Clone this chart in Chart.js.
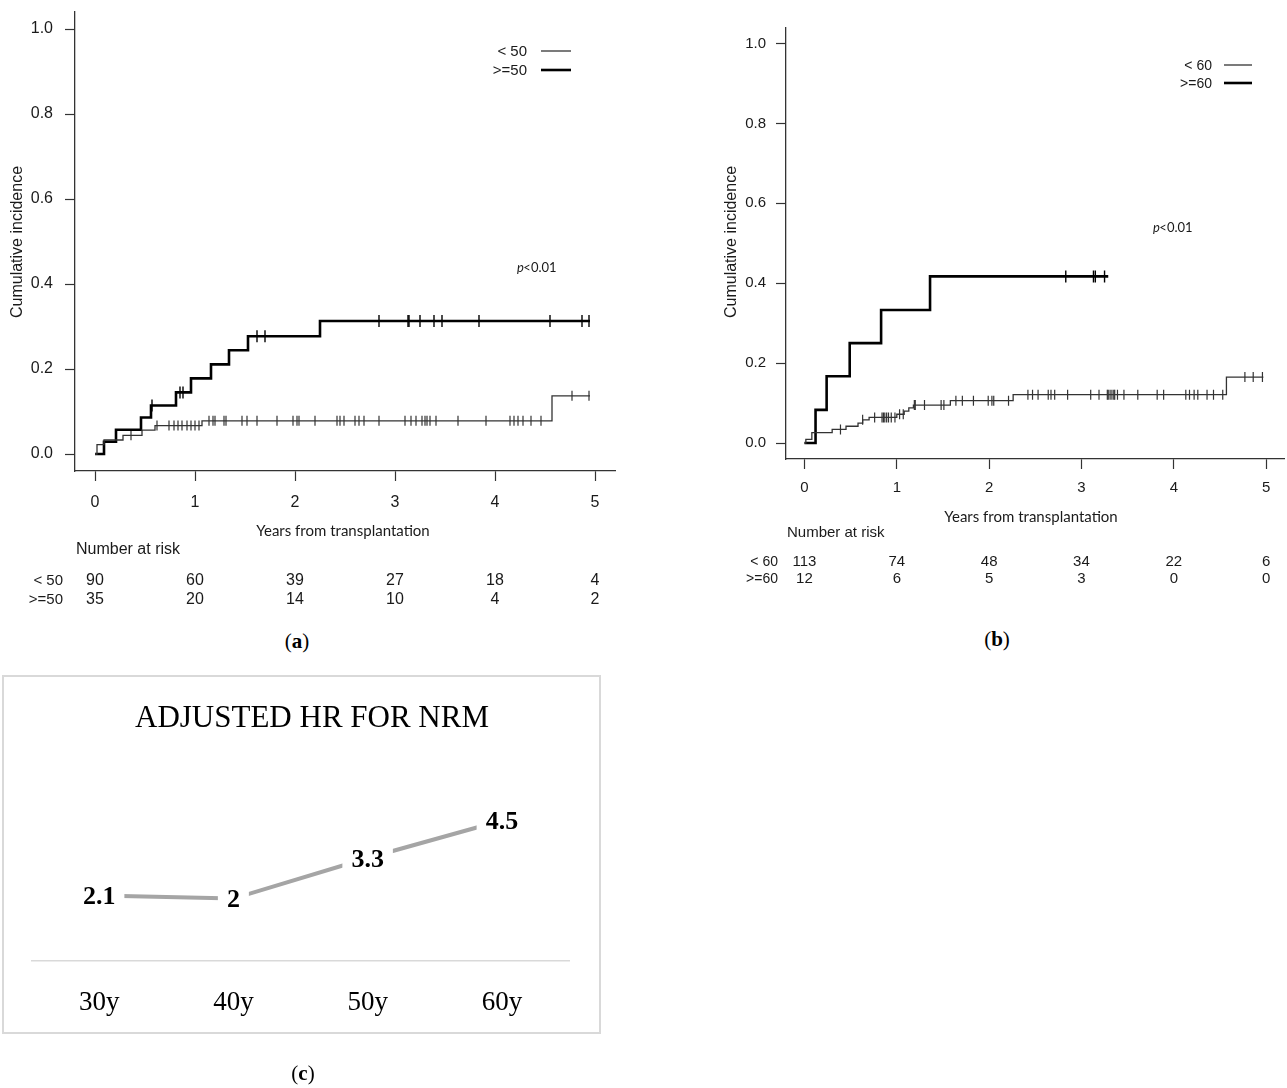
<!DOCTYPE html>
<html>
<head>
<meta charset="utf-8">
<script src="https://cdn.jsdelivr.net/npm/chart.js@4.4.1/dist/chart.umd.min.js"></script>
<style>
    html, body { margin: 0; padding: 0; background: #fff; width: 1287px; height: 1088px; overflow: hidden; }
    .panel { position: absolute; }
    .letter { position: absolute; font-family: "Liberation Serif", serif; font-size: 21px; color: #000; transform: translate(-50%, -50%); }
    .box { position: absolute; left: 2px; top: 675px; width: 595px; height: 355px; border: 2px solid #d9d9d9; }
</style>
</head>
<body>
<div class="box"></div>
<div class="panel" style="left:0;top:0;width:630px;height:620px"><canvas id="chartA"></canvas></div>
<div class="panel" style="left:700px;top:0;width:592px;height:620px"><canvas id="chartB"></canvas></div>
<div class="panel" style="left:0;top:670px;width:620px;height:418px"><canvas id="chartC"></canvas></div>
<div class="letter" style="left:297px;top:641px">(<b>a</b>)</div>
<div class="letter" style="left:997px;top:639px">(<b>b</b>)</div>
<div class="letter" style="left:303px;top:1073px">(<b>c</b>)</div>

<script>
// Axlar
const years = [0, 1, 2, 3, 4, 5];
const incidenceTicks = [0, 0.2, 0.4, 0.6, 0.8, 1.0];

// Panel a: < 50
const aUnder50Times = [0.02, 0.09, 0.28, 0.47, 0.60, 1.07, 4.57];
const aUnder50Cum = [0.022, 0.033, 0.044, 0.056, 0.067, 0.078, 0.137];
const aUnder50End = 4.95;
const aUnder50Censor = [0.36, 0.62, 0.74, 0.79, 0.83, 0.87, 0.92, 0.96, 1.0, 1.04, 1.14, 1.18, 1.20,
    1.29, 1.31, 1.47, 1.52, 1.62, 1.82, 1.98, 2.02, 2.04, 2.2, 2.42, 2.45, 2.49, 2.6, 2.64, 2.69,
    2.84, 3.1, 3.16, 3.21, 3.27, 3.30, 3.32, 3.35, 3.41, 3.63, 3.91, 4.15, 4.19, 4.23, 4.28, 4.36,
    4.46, 4.77, 4.94];

// Panel a: >=50
const aOver50Times = [0.09, 0.21, 0.46, 0.56, 0.81, 0.96, 1.16, 1.34, 1.53, 2.25];
const aOver50Cum = [0.029, 0.057, 0.086, 0.114, 0.145, 0.178, 0.211, 0.244, 0.277, 0.313];
const aOver50End = 4.95;
const aOver50Censor = [0.57, 0.85, 0.88, 1.62, 1.70, 2.84, 3.13, 3.14, 3.25, 3.39, 3.47, 3.84, 4.55, 4.87, 4.94];

// Panel b: < 60
const bUnder60Times = [0.015, 0.08, 0.30, 0.45, 0.58, 0.63, 0.70, 1.0, 1.08, 1.13, 1.18, 1.58, 2.26, 4.57];
const bUnder60Cum = [0.009, 0.026, 0.034, 0.042, 0.05, 0.058, 0.064, 0.072, 0.08, 0.088, 0.095, 0.106, 0.121, 0.165];
const bUnder60End = 4.97;
const bUnder60Censor = [0.39, 0.63, 0.76, 0.84, 0.855, 0.87, 0.89, 0.91, 0.94, 0.98, 1.03, 1.07, 1.19,
    1.20, 1.30, 1.48, 1.51, 1.64, 1.71, 1.83, 1.99, 2.03, 2.05, 2.21, 2.42, 2.47, 2.53, 2.64, 2.67,
    2.71, 2.85, 3.10, 3.19, 3.28, 3.29, 3.31, 3.33, 3.35, 3.36, 3.39, 3.46, 3.61, 3.82, 3.89, 4.13,
    4.17, 4.22, 4.26, 4.36, 4.43, 4.53, 4.77, 4.86, 4.96];

// Panel b: >=60
const bOver60Times = [0.12, 0.24, 0.49, 0.83, 1.36];
const bOver60Cum = [0.083, 0.167, 0.25, 0.333, 0.417];
const bOver60End = 3.29;
const bOver60Censor = [2.83, 3.13, 3.15, 3.25];

// Number at risk
const riskA = [["< 50", [90, 60, 39, 27, 18, 4]], [">=50", [35, 20, 14, 10, 4, 2]]];
const riskB = [["< 60", [113, 74, 48, 34, 22, 6]], [">=60", [12, 6, 5, 3, 0, 0]]];

// Panel c
const hrAges = ["30y", "40y", "50y", "60y"];
const hrValues = [2.1, 2, 3.3, 4.5];

const SANS = '"Liberation Sans", Arial, sans-serif';
const SERIF = '"Liberation Serif", "Times New Roman", serif';

// Trappstegskurva
function stepPoints(times, cum, end) {
    const pts = [{ x: 0, y: 0 }];
    times.forEach((t, i) => pts.push({ x: t, y: cum[i] }));
    pts.push({ x: end, y: cum[cum.length - 1] });
    return pts;
}

function levelAt(times, cum, t) {
    let y = 0;
    times.forEach((s, i) => { if (s <= t) y = cum[i]; });
    return y;
}

function censorPoints(times, cum, marks) {
    return marks.map(t => ({ x: t, y: levelAt(times, cum, t) }));
}

// Texter runt KM-diagrammen
const kmText = {
    id: "kmText",
    afterDraw(chart, args, o) {
        const ctx = chart.ctx;
        const xs = chart.scales.x;
        ctx.save();
        ctx.fillStyle = "#1a1a1a";
        ctx.textBaseline = "middle";

        // y-titel
        ctx.save();
        ctx.translate(o.yTitle[0], o.yTitle[1]);
        ctx.rotate(-Math.PI / 2);
        ctx.textAlign = "center";
        ctx.font = o.yTitleSize + "px " + SANS;
        ctx.fillText("Cumulative incidence", 0, 0);
        ctx.restore();

        // x-titel
        ctx.textAlign = "center";
        ctx.font = o.xTitleSize + 'px Lato, "Open Sans", sans-serif';
        ctx.fillText("Years from transplantation", o.xTitle[0], o.xTitle[1]);

        // Number at risk
        ctx.font = o.riskSize + "px " + SANS;
        ctx.textAlign = "left";
        ctx.fillText("Number at risk", o.riskHead[0], o.riskHead[1]);
        o.risk.forEach((row, r) => {
            const y = o.riskRows[r];
            ctx.textAlign = "right";
            ctx.font = (o.riskSize - 1) + "px " + SANS;
            ctx.fillText(row[0], o.riskLabelX, y);
            ctx.textAlign = "center";
            ctx.font = o.riskSize + "px " + SANS;
            row[1].forEach((n, i) => ctx.fillText(String(n), xs.getPixelForValue(years[i]), y));
        });

        // Legend
        ctx.font = o.legendSize + "px " + SANS;
        o.legend.forEach((item, i) => {
            ctx.textAlign = "right";
            ctx.fillText(item.text, o.legendTextX, o.legendY[i] + 1);
            ctx.beginPath();
            ctx.strokeStyle = item.color;
            ctx.lineWidth = item.width;
            ctx.moveTo(o.legendLine[0], o.legendY[i]);
            ctx.lineTo(o.legendLine[1], o.legendY[i]);
            ctx.stroke();
        });

        // p-värde
        ctx.textAlign = "left";
        ctx.font = "italic 13px Lato, sans-serif";
        ctx.fillText("p", o.p[0], o.p[1]);
        const w = ctx.measureText("p").width;
        ctx.font = "13px Lato, sans-serif";
        ctx.fillText("<0.01", o.p[0] + w - 0.5, o.p[1]);
        ctx.restore();
    }
};

function makeKM(id, thin, thick, layout) {
    new Chart(document.getElementById(id), {
        type: "line",
        data: {
            datasets: [
                {
                    data: stepPoints(thin.times, thin.cum, thin.end),
                    stepped: "before",
                    borderColor: "#333",
                    borderWidth: 1.3,
                    pointRadius: 0
                },
                {
                    data: stepPoints(thick.times, thick.cum, thick.end),
                    stepped: "before",
                    borderColor: "#000",
                    borderWidth: 2.6,
                    pointRadius: 0
                },
                {
                    type: "scatter",
                    data: censorPoints(thin.times, thin.cum, thin.censor),
                    pointStyle: "line",
                    rotation: 90,
                    radius: 5,
                    borderColor: "#333",
                    borderWidth: 1.2
                },
                {
                    type: "scatter",
                    data: censorPoints(thick.times, thick.cum, thick.censor),
                    pointStyle: "line",
                    rotation: 90,
                    radius: 6,
                    borderColor: "#000",
                    borderWidth: 1.4
                }
            ]
        },
        options: {
            responsive: true,
            maintainAspectRatio: false,
            animation: false,
            events: [],
            layout: { padding: { top: layout.top, right: layout.right, left: 0, bottom: 0 } },
            plugins: {
                legend: { display: false },
                tooltip: { enabled: false },
                kmText: layout.text
            },
            scales: {
                x: {
                    type: "linear",
                    min: -0.2,
                    max: 5.2,
                    afterBuildTicks: s => { s.ticks = years.map(v => ({ value: v })); },
                    afterFit: s => { s.height = layout.xHeight; s.paddingLeft = 0; s.paddingRight = 0; },
                    grid: { drawOnChartArea: false, tickLength: layout.tick, tickColor: "#333", tickWidth: 1.2 },
                    border: { display: true, color: "#333", width: 1.3 },
                    ticks: {
                        color: "#1a1a1a",
                        font: { family: SANS, size: layout.tickSize },
                        padding: layout.xPad,
                        maxRotation: 0,
                        callback: v => String(v)
                    }
                },
                y: {
                    type: "linear",
                    min: -0.04,
                    max: 1.04,
                    afterBuildTicks: s => { s.ticks = incidenceTicks.map(v => ({ value: v })); },
                    afterFit: s => { s.width = layout.yWidth; s.paddingTop = 0; s.paddingBottom = 0; },
                    grid: { drawOnChartArea: false, tickLength: layout.tick, tickColor: "#333", tickWidth: 1.2 },
                    border: { display: true, color: "#333", width: 1.3 },
                    ticks: {
                        color: "#1a1a1a",
                        font: { family: SANS, size: layout.tickSize },
                        padding: layout.yPad,
                        callback: v => v.toFixed(1)
                    }
                }
            }
        },
        plugins: [kmText]
    });
}

makeKM("chartA",
    { times: aUnder50Times, cum: aUnder50Cum, end: aUnder50End, censor: aUnder50Censor },
    { times: aOver50Times, cum: aOver50Cum, end: aOver50End, censor: aOver50Censor },
    {
        top: 12, right: 15, xHeight: 149, yWidth: 75, tick: 10, tickSize: 16, xPad: 12, yPad: 12,
        text: {
            yTitle: [18, 242], yTitleSize: 16,
            xTitle: [343, 531], xTitleSize: 15,
            riskHead: [76, 550], riskRows: [581, 600], riskLabelX: 63, riskSize: 16, risk: riskA,
            legend: [
                { text: "< 50", color: "#333", width: 1.3 },
                { text: ">=50", color: "#000", width: 2.6 }
            ],
            legendTextX: 527, legendY: [51, 70], legendLine: [541, 571], legendSize: 15,
            p: [517, 268]
        }
    });

makeKM("chartB",
    { times: bUnder60Times, cum: bUnder60Cum, end: bUnder60End, censor: bUnder60Censor },
    { times: bOver60Times, cum: bOver60Cum, end: bOver60End, censor: bOver60Censor },
    {
        top: 27.5, right: 0, xHeight: 161, yWidth: 86, tick: 10, tickSize: 15, xPad: 10, yPad: 10,
        text: {
            yTitle: [32, 242], yTitleSize: 16,
            xTitle: [331, 517], xTitleSize: 15,
            riskHead: [87, 533], riskRows: [562, 579], riskLabelX: 78, riskSize: 15, risk: riskB,
            legend: [
                { text: "< 60", color: "#333", width: 1.3 },
                { text: ">=60", color: "#000", width: 2.6 }
            ],
            legendTextX: 512, legendY: [65, 83], legendLine: [524, 552], legendSize: 14,
            p: [453, 228]
        }
    });

// Panel c: titel och värdeetiketter
const hrText = {
    id: "hrText",
    afterDatasetsDraw(chart) {
        const ctx = chart.ctx;
        ctx.save();
        ctx.fillStyle = "#000";
        ctx.textAlign = "center";
        ctx.textBaseline = "middle";
        ctx.font = "31px " + SERIF;
        ctx.fillText("ADJUSTED HR FOR NRM", 312, 49);

        ctx.font = "bold 26px " + SERIF;
        chart.getDatasetMeta(0).data.forEach((pt, i) => {
            const txt = String(hrValues[i]);
            const w = ctx.measureText(txt).width + 18;
            ctx.fillStyle = "#fff";
            ctx.fillRect(pt.x - w / 2, pt.y - 15, w, 30);
            ctx.fillStyle = "#000";
            ctx.fillText(txt, pt.x, pt.y + 2);
        });
        ctx.restore();
    }
};

new Chart(document.getElementById("chartC"), {
    type: "line",
    data: {
        labels: hrAges,
        datasets: [{
            data: hrValues,
            borderColor: "#a5a5a5",
            borderWidth: 4,
            pointRadius: 0,
            tension: 0
        }]
    },
    options: {
        responsive: true,
        maintainAspectRatio: false,
        animation: false,
        events: [],
        layout: { padding: { left: 32, right: 51, top: 99, bottom: 0 } },
        plugins: { legend: { display: false }, tooltip: { enabled: false } },
        scales: {
            x: {
                offset: true,
                afterFit: s => { s.height = 127; },
                grid: { drawOnChartArea: false, drawTicks: false },
                border: { display: true, color: "#d9d9d9", width: 1.5 },
                ticks: { color: "#000", font: { family: SERIF, size: 27 }, padding: 26 }
            },
            y: { display: false, min: 0, max: 6.15 }
        }
    },
    plugins: [hrText]
});
</script>
</body>
</html>
